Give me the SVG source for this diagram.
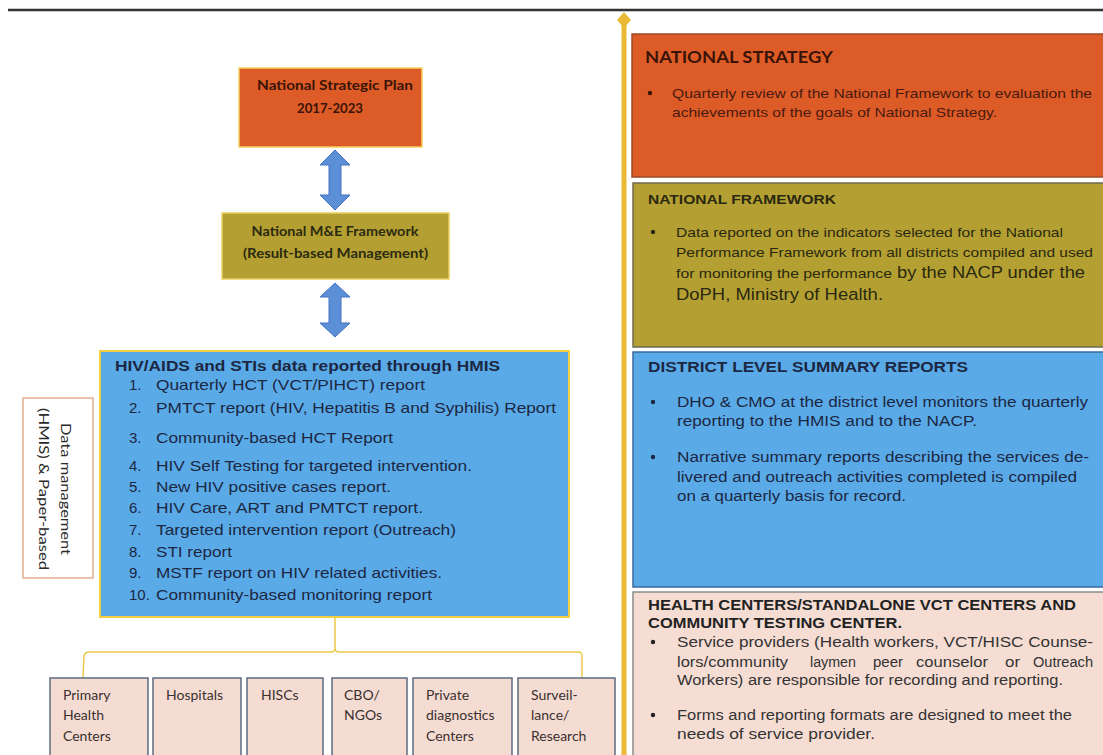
<svg xmlns="http://www.w3.org/2000/svg" width="1103" height="755" viewBox="0 0 1103 755">
<defs>
<style>
.cal{font-family:Lato,"Open Sans","Liberation Sans",sans-serif;}
.ar{font-family:"Liberation Sans",Arial,sans-serif;}
.b{font-weight:bold;}
.lt{fill:#1c2742;font-size:15px;}
.rt{font-size:14px;}
.org{fill:#dd5b26;}
.olv{fill:#b4a032;}
.blu{fill:#5aaae8;}
.pnk{fill:#f6ddd3;}
.leaf rect{fill:#f5dcd2;stroke:#5c6b80;stroke-width:1.5;}
.leaf text{font-family:Lato,"Open Sans","Liberation Sans",sans-serif;font-size:14px;fill:#3a3030;}
.dbl{fill:#5b8fd6;stroke:#4472c4;stroke-width:1;}
</style>
</defs>
<rect x="0" y="0" width="1103" height="755" fill="#ffffff"/>
<line x1="8" y1="10" x2="1103" y2="10" stroke="#333" stroke-width="2.5"/>

<g id="timeline">
<rect x="621.5" y="20" width="5" height="740" fill="#e9b935"/>
<polygon points="624,12 631,20 624,28 617,20" fill="#e9b935"/>
</g>

<g id="connectors">
<polygon class="dbl" points="335,150 350,165 341,165 341,195 350,195 335,210 320,195 329,195 329,165 320,165"/>
<polygon class="dbl" points="335,283 350,297 341,297 341,323 350,323 335,337 320,323 329,323 329,297 320,297"/>
<path d="M335,617 V648 Q335,652 331,652 H89 Q85,652 84,656 L83,678 M335,648 Q335,652 339,652 H578 Q582,652 582,656 V678" fill="none" stroke="#ecc94a" stroke-width="1.5"/>
</g>

<g id="nsp">
<rect x="239" y="68" width="183" height="79" class="org" stroke="#f5d060" stroke-width="1.5"/>
<text class="cal b" x="335" y="90" font-size="13" fill="#3a1408" text-anchor="middle" textLength="156" lengthAdjust="spacingAndGlyphs">National Strategic Plan</text>
<text class="cal b" x="330" y="113" font-size="13" fill="#3a1408" text-anchor="middle" textLength="66" lengthAdjust="spacingAndGlyphs">2017-2023</text>
</g>

<g id="me">
<rect x="222" y="213" width="227" height="66" class="olv" stroke="#e8d060" stroke-width="1.5"/>
<text class="cal b" x="335" y="236" font-size="13" fill="#2c2a10" text-anchor="middle" textLength="167" lengthAdjust="spacingAndGlyphs">National M&amp;E Framework</text>
<text class="cal b" x="335.5" y="258" font-size="13" fill="#2c2a10" text-anchor="middle" textLength="185" lengthAdjust="spacingAndGlyphs">(Result-based Management)</text>
</g>

<g id="hmis">
<rect x="100" y="351" width="469" height="266" class="blu" stroke="#f0d040" stroke-width="2"/>
<text class="ar b" x="115" y="371" font-size="14" fill="#1c2742" textLength="385" lengthAdjust="spacingAndGlyphs">HIV/AIDS  and STIs data reported through HMIS</text>
<g class="ar lt">
<text x="129" y="390">1.</text><text x="156" y="390" textLength="269" lengthAdjust="spacingAndGlyphs">Quarterly HCT (VCT/PIHCT) report</text>
<text x="129" y="413">2.</text><text x="156" y="413" textLength="400" lengthAdjust="spacingAndGlyphs">PMTCT report (HIV, Hepatitis B and Syphilis) Report</text>
<text x="129" y="443">3.</text><text x="156" y="443" textLength="237" lengthAdjust="spacingAndGlyphs">Community-based HCT Report</text>
<text x="129" y="471">4.</text><text x="156" y="471" textLength="316" lengthAdjust="spacingAndGlyphs">HIV Self Testing for targeted intervention.</text>
<text x="129" y="492">5.</text><text x="156" y="492" textLength="235" lengthAdjust="spacingAndGlyphs">New HIV positive cases report.</text>
<text x="129" y="513">6.</text><text x="156" y="513" textLength="267" lengthAdjust="spacingAndGlyphs">HIV Care, ART and PMTCT report.</text>
<text x="129" y="535">7.</text><text x="156" y="535" textLength="300" lengthAdjust="spacingAndGlyphs">Targeted intervention report (Outreach)</text>
<text x="129" y="557">8.</text><text x="156" y="557" textLength="76" lengthAdjust="spacingAndGlyphs">STI report</text>
<text x="129" y="578">9.</text><text x="156" y="578" textLength="286" lengthAdjust="spacingAndGlyphs">MSTF report on HIV related activities.</text>
<text x="129" y="600">10.</text><text x="156" y="600" textLength="276" lengthAdjust="spacingAndGlyphs">Community-based monitoring report</text>
</g>
</g>

<g id="datamgmt">
<rect x="23" y="398" width="70" height="180" fill="#ffffff" stroke="#e2b08e" stroke-width="1.5"/>
<text class="cal" transform="translate(66,489) rotate(90)" x="0" y="5" font-size="14" fill="#2a2a2a" text-anchor="middle" textLength="132" lengthAdjust="spacingAndGlyphs">Data management</text>
<text class="cal" transform="translate(44,489) rotate(90)" x="0" y="5" font-size="14" fill="#2a2a2a" text-anchor="middle" textLength="162" lengthAdjust="spacingAndGlyphs">(HMIS) &amp; Paper-based</text>
</g>

<g id="leaf-phc" class="leaf"><rect x="50" y="678" width="98" height="90"/><text x="63" y="700">Primary</text><text x="63" y="720">Health</text><text x="63" y="741">Centers</text></g>
<g id="leaf-hosp" class="leaf"><rect x="153" y="678" width="88" height="90"/><text x="166" y="700">Hospitals</text></g>
<g id="leaf-hisc" class="leaf"><rect x="247" y="678" width="76" height="90"/><text x="261" y="700">HISCs</text></g>
<g id="leaf-cbo" class="leaf"><rect x="332" y="678" width="75" height="90"/><text x="344" y="700">CBO/</text><text x="344" y="720">NGOs</text></g>
<g id="leaf-priv" class="leaf"><rect x="413" y="678" width="99" height="90"/><text x="426" y="700">Private</text><text x="426" y="720">diagnostics</text><text x="426" y="741">Centers</text></g>
<g id="leaf-surv" class="leaf"><rect x="518" y="678" width="97" height="90"/><text x="531" y="700">Surveil-</text><text x="531" y="720">lance/</text><text x="531" y="741">Research</text></g>

<g id="national-strategy">
<rect x="632" y="34" width="480" height="143" class="org" stroke="#9c4a2a" stroke-width="1.5"/>
<text class="cal b" x="645" y="63" font-size="17" fill="#3a1408" textLength="188" lengthAdjust="spacingAndGlyphs">NATIONAL STRATEGY</text>
<circle cx="650" cy="93" r="2.2" fill="#3a1408"/>
<text class="ar" x="672" y="98" font-size="13" fill="#4a1a10" textLength="420" lengthAdjust="spacingAndGlyphs">Quarterly review of the National Framework to evaluation the</text>
<text class="ar" x="672" y="117" font-size="13" fill="#4a1a10" textLength="325" lengthAdjust="spacingAndGlyphs">achievements of the goals of National Strategy.</text>
</g>

<g id="national-framework">
<rect x="633" y="183" width="480" height="164" class="olv" stroke="#6d6a50" stroke-width="1.5"/>
<text class="ar b" x="648" y="204" font-size="13.5" fill="#2a2810" textLength="188" lengthAdjust="spacingAndGlyphs">NATIONAL FRAMEWORK</text>
<circle cx="653" cy="232" r="2.2" fill="#2a2810"/>
<text class="ar" x="676" y="237" font-size="13" fill="#2a2810" textLength="387" lengthAdjust="spacingAndGlyphs">Data reported on the indicators selected for the National</text>
<text class="ar" x="676" y="257" font-size="13" fill="#2a2810" textLength="417" lengthAdjust="spacingAndGlyphs">Performance Framework from all districts compiled and used</text>
<text class="ar" x="676" y="278" font-size="13" fill="#2a2810" textLength="216" lengthAdjust="spacingAndGlyphs">for monitoring the performance</text>
<text class="ar" x="897" y="278" font-size="16" fill="#2a2810" textLength="188" lengthAdjust="spacingAndGlyphs">by the NACP under the</text>
<text class="ar" x="676" y="300" font-size="16" fill="#2a2810" textLength="207" lengthAdjust="spacingAndGlyphs">DoPH, Ministry of Health.</text>
</g>

<g id="district">
<rect x="633" y="352" width="480" height="235" class="blu" stroke="#3a6a9a" stroke-width="1.5"/>
<text class="ar b" x="648" y="372" font-size="14" fill="#1c2742" textLength="320" lengthAdjust="spacingAndGlyphs">DISTRICT LEVEL SUMMARY REPORTS</text>
<circle cx="653" cy="402" r="2.2" fill="#1c2742"/>
<text class="ar rt" x="677" y="407" fill="#1c2742" textLength="411" lengthAdjust="spacingAndGlyphs">DHO &amp; CMO at the district level monitors the quarterly</text>
<text class="ar rt" x="677" y="426" fill="#1c2742" textLength="300" lengthAdjust="spacingAndGlyphs">reporting to the HMIS and to the NACP.</text>
<circle cx="653" cy="457" r="2.2" fill="#1c2742"/>
<text class="ar rt" x="677" y="462" fill="#1c2742" textLength="412" lengthAdjust="spacingAndGlyphs">Narrative summary reports describing the services de-</text>
<text class="ar rt" x="677" y="482" fill="#1c2742" textLength="400" lengthAdjust="spacingAndGlyphs">livered and outreach activities completed is compiled</text>
<text class="ar rt" x="677" y="501" fill="#1c2742" textLength="229" lengthAdjust="spacingAndGlyphs">on a quarterly basis for record.</text>
</g>

<g id="health-centers">
<rect x="633" y="592" width="480" height="170" class="pnk" stroke="#8a8a8a" stroke-width="1.5"/>
<text class="ar b" x="648" y="610" font-size="14" fill="#222" textLength="428" lengthAdjust="spacingAndGlyphs">HEALTH CENTERS/STANDALONE VCT CENTERS AND</text>
<text class="ar b" x="648" y="628" font-size="14" fill="#222" textLength="254" lengthAdjust="spacingAndGlyphs">COMMUNITY TESTING CENTER.</text>
<circle cx="653" cy="642" r="2.2" fill="#222"/>
<text class="ar rt" x="677" y="647" fill="#333" textLength="416" lengthAdjust="spacingAndGlyphs">Service providers (Health workers, VCT/HISC Counse-</text>
<text class="ar rt" x="677" y="667" fill="#333" textLength="111" lengthAdjust="spacingAndGlyphs">lors/community</text>
<text class="ar rt" x="810" y="667" fill="#333" textLength="46" lengthAdjust="spacingAndGlyphs">laymen</text>
<text class="ar rt" x="873" y="667" fill="#333" textLength="30" lengthAdjust="spacingAndGlyphs">peer</text>
<text class="ar rt" x="916" y="667" fill="#333" textLength="72" lengthAdjust="spacingAndGlyphs">counselor</text>
<text class="ar rt" x="1005" y="667" fill="#333" textLength="15" lengthAdjust="spacingAndGlyphs">or</text>
<text class="ar rt" x="1033" y="667" fill="#333" textLength="60" lengthAdjust="spacingAndGlyphs">Outreach</text>
<text class="ar rt" x="677" y="685" fill="#333" textLength="386" lengthAdjust="spacingAndGlyphs">Workers) are responsible for recording and reporting.</text>
<circle cx="653" cy="715" r="2.2" fill="#222"/>
<text class="ar rt" x="677" y="720" fill="#333" textLength="395" lengthAdjust="spacingAndGlyphs">Forms and reporting formats are designed to meet the</text>
<text class="ar rt" x="677" y="739" fill="#333" textLength="198" lengthAdjust="spacingAndGlyphs">needs of service provider.</text>
</g>
</svg>
